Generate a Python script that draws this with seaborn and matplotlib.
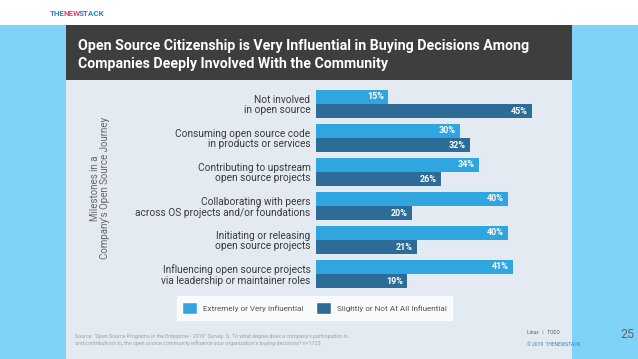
import pandas as pd
import numpy as np
import matplotlib
matplotlib.use('Agg')
import matplotlib.pyplot as plt
from matplotlib.patches import Rectangle, Patch
import seaborn as sns

# data
milestones = ['Not involved\nin open source',
              'Consuming open source code\nin products or services',
              'Contributing to upstream\nopen source projects',
              'Collaborating with peers\nacross OS projects and/or foundations',
              'Initiating or releasing\nopen source projects',
              'Influencing open source projects\nvia leadership or maintainer roles']
very_influential = [15, 30, 34, 40, 40, 41]
not_influential = [45, 32, 26, 20, 21, 19]
series = ['Extremely or Very Influential', 'Slightly or Not At All Influential']

df = pd.DataFrame({
    'milestone': milestones * 2,
    'pct': very_influential + not_influential,
    'series': [series[0]] * len(milestones) + [series[1]] * len(milestones),
})

W, H = 638, 359
light_bar = '#2fa6df'
dark_bar = '#2c6c96'

sns.set_style('white')
plt.rcParams['font.family'] = ['Roboto', 'DejaVu Sans']

fig = plt.figure(figsize=(W / 100, H / 100), dpi=100)
fig.patch.set_facecolor('white')

def px(x0, y0, x1, y1):
    # pixel box (top-left origin) -> figure fraction rect
    return [x0 / W, 1 - y1 / H, (x1 - x0) / W, (y1 - y0) / H]

# slide background pieces
bg = fig.add_axes([0, 0, 1, 1])
bg.set_xlim(0, W)
bg.set_ylim(H, 0)
bg.axis('off')
bg.add_patch(Rectangle((0, 25), 66, H - 25, color='#7fd3f7', lw=0))
bg.add_patch(Rectangle((572, 25), W - 572, H - 25, color='#7fd3f7', lw=0))
bg.add_patch(Rectangle((66, 25), 506, 55, color='#3e3e3e', lw=0))
bg.add_patch(Rectangle((66, 80), 506, H - 80, color='#e3eaf1', lw=0))

bg.text(78, 46, 'Open Source Citizenship is Very Influential in Buying Decisions Among',
        color='white', fontsize=10.2, fontweight='bold', va='center')
bg.text(78, 64, 'Companies Deeply Involved With the Community',
        color='white', fontsize=10.2, fontweight='bold', va='center')

# logo, pieces placed one after another
renderer = fig.canvas.get_renderer()
x = 50
for word, col in [('THE', '#2f86c4'), ('NEW', '#e0457b'), ('STACK', '#2f86c4')]:
    t = bg.text(x, 13, word, color=col, fontsize=5.8, fontweight='bold', va='center')
    bb = t.get_window_extent(renderer)
    x += bb.width - 1.5

bg.text(100, 188, "Milestones in a\nCompany's Open Source Journey", rotation=90,
        ha='center', va='center', fontsize=7, color='#666666', linespacing=1.1)

bg.text(75, 340, 'Source: "Open Source Programs in the Enterprise - 2019" Survey. Q. To what degree does a company\'s participation in,\n'
        'and contributions to, the open source community influence your organization\'s buying decisions? n=1725.',
        fontsize=3.8, color='#9aa3ab', va='center', linespacing=1.4)
bg.text(527, 332, 'Linux   |   TODO', fontsize=3.5, color='#555555', va='center')
bg.text(527, 344, '© 2019  THENEWSTACK', fontsize=3.5, color='#2f86c4', va='center')
bg.text(634, 334, '25', fontsize=9, color='#666666', ha='right', va='center')

# the bar chart
ax = fig.add_axes(px(316, 87, 556, 291))
sns.barplot(data=df, y='milestone', x='pct', hue='series', orient='h',
            palette=[light_bar, dark_bar], width=0.83, dodge=True, legend=False,
            saturation=1, linewidth=0, ax=ax)
ax.set_xlim(0, 50)
ax.set_ylim(len(milestones) - 0.5, -0.5)
ax.set_facecolor('none')
for s in ax.spines.values():
    s.set_visible(False)
ax.set_xticks([])
ax.set_xlabel('')
ax.set_ylabel('')
ax.tick_params(axis='y', length=0, pad=4, labelsize=7.3, labelcolor='#3a3a3a')
for lab in ax.get_yticklabels():
    lab.set_linespacing(1.05)

for cont in ax.containers:
    for p in cont.patches:
        ax.annotate(f'{p.get_width():.0f}%', (p.get_width(), p.get_y() + p.get_height() / 2),
                    xytext=(-3, 0), textcoords='offset points', ha='right', va='center',
                    color='white', fontsize=6.5, fontweight='bold')

handles = [Patch(facecolor=light_bar, label=series[0]), Patch(facecolor=dark_bar, label=series[1])]
leg = fig.legend(handles=handles, loc='center', bbox_to_anchor=(314.5 / W, 1 - 308 / H),
                 ncol=2, frameon=True, fontsize=5.9, handlelength=1.8, handleheight=1.8,
                 columnspacing=1.6, handletextpad=0.7, borderpad=0.7, fancybox=False)
leg.get_frame().set_facecolor('white')
leg.get_frame().set_edgecolor('white')
for t in leg.get_texts():
    t.set_color('#555555')

fig.savefig('out.png', dpi=100)
